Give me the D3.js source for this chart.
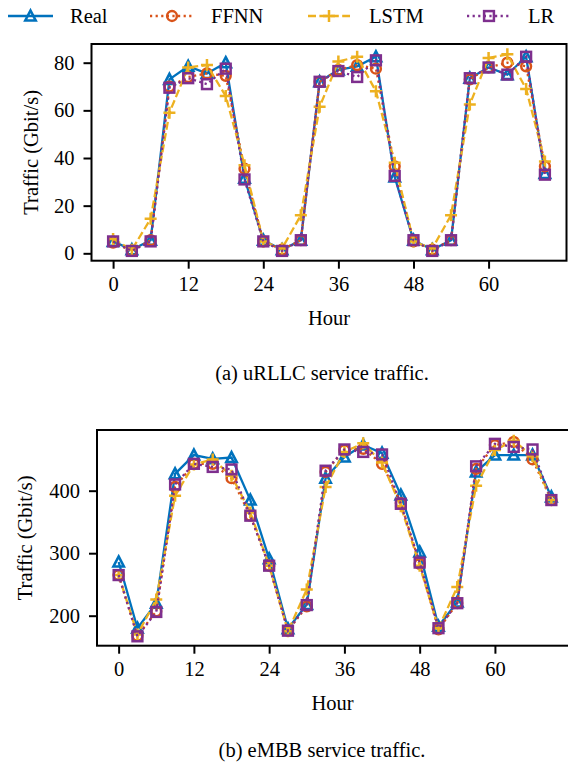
<!DOCTYPE html>
<html>
<head>
<meta charset="utf-8">
<script src="https://cdn.jsdelivr.net/npm/d3@7"></script>
<style>
  body { margin: 0; background: #fff; }
  svg text { font-family: "Liberation Serif", "Times New Roman", serif; fill: #000; }
</style>
</head>
<body>
<svg id="fig" width="568" height="768"></svg>
<script>
// hours on the x axis (one sample every 3 h)
var hours = [0, 3, 6, 9, 12, 15, 18, 21, 24, 27, 30, 33, 36, 39, 42, 45, 48, 51, 54, 57, 60, 63, 66, 69];
var xTicks = [0, 12, 24, 36, 48, 60];

// (a) uRLLC traffic, Gbit/s
var urllcReal = [5, 1.5, 5.5, 73, 78.5, 75.5, 80, 31.5, 5.5, 1.5, 5.5, 72, 77, 78.5, 82.5, 32, 5.5, 1.5, 5.5, 73.5, 78, 75, 82.5, 33.5];
var urllcFFNN = [4.5, 1, 5.5, 70, 74, 75.5, 74.5, 35.5, 5, 1.5, 5.5, 72, 77, 79, 77.5, 36.5, 5, 1.5, 5.5, 73, 78, 80, 78.5, 36.5];
var urllcLSTM = [6, 1.5, 14.5, 59, 78, 79, 66, 37, 5, 2, 16, 61.5, 80.5, 82.5, 68, 38, 5, 2, 16, 62.5, 82, 83.5, 69, 38.5];
var urllcLR   = [5, 1, 5, 69.5, 73.5, 71, 77.5, 31, 5, 1, 5.5, 72, 76.5, 74, 81, 32.5, 5.5, 1, 5.5, 73.5, 78, 75, 82.5, 33];
var urllcTicks = [0, 20, 40, 60, 80];

// (b) eMBB traffic, Gbit/s
var embbReal = [286, 180, 220, 427, 457, 451, 453, 385, 291, 179, 218, 420, 454, 473, 460, 393, 302, 183, 222, 430, 457, 457, 457, 390];
var embbFFNN = [265, 168, 207, 406, 443, 443, 420, 360, 280, 176, 215, 430, 465, 467, 443, 380, 283, 178, 220, 435, 473, 478, 450, 385];
var embbLSTM = [265, 170, 226, 392, 442, 450, 424, 365, 280, 175, 242, 406, 462, 476, 445, 375, 280, 180, 246, 408, 465, 480, 455, 385];
var embbLR   = [265, 167, 206, 410, 443, 438, 434, 360, 280, 176, 217, 432, 466, 462, 458, 379, 285, 180, 220, 439, 475, 470, 466, 385];
var embbTicks = [200, 300, 400];

var seriesNames = ["Real", "FFNN", "LSTM", "LR"];

var styles = {
  Real: { color: "#0072BD", dash: null, marker: "tri" },
  FFNN: { color: "#D95319", dash: "2.2,3.4", marker: "circle" },
  LSTM: { color: "#EDB120", dash: "8,3.4", marker: "plus" },
  LR:   { color: "#7E2F8E", dash: "2.2,3.4", marker: "square" }
};

var FS = "20.5px";
var svg = d3.select("#fig");

function drawMarker(g, kind, color) {
  if (kind == "tri") {
    g.append("path").attr("d", "M0,-5.5L5.2,4.5L-5.2,4.5Z")
      .attr("fill", "none").attr("stroke", color).attr("stroke-width", 2.6);
  } else if (kind == "circle") {
    g.append("circle").attr("r", 4.9)
      .attr("fill", "none").attr("stroke", color).attr("stroke-width", 2.5);
  } else if (kind == "square") {
    g.append("rect").attr("x", -4.9).attr("y", -4.9).attr("width", 9.8).attr("height", 9.8)
      .attr("fill", "none").attr("stroke", color).attr("stroke-width", 2.5);
  } else {
    g.append("path").attr("d", "M-6,0H6M0,-6V6")
      .attr("fill", "none").attr("stroke", color).attr("stroke-width", 2.5);
  }
}

function drawPanel(p) {
  var g = svg.append("g");
  var x = d3.scaleLinear().domain([-3.45, 72.45]).range([p.left, p.right]);
  var y = d3.scaleLinear().domain(p.yDomain).range([p.bottom, p.top]);

  // series
  var line = d3.line().x(function(d) { return x(d[0]); }).y(function(d) { return y(d[1]); });
  seriesNames.forEach(function(name) {
    var st = styles[name];
    var pts = hours.map(function(h, i) { return [h, p.data[name][i]]; });
    g.append("path").datum(pts)
      .attr("d", line)
      .attr("fill", "none")
      .attr("stroke", st.color)
      .attr("stroke-width", 2.3)
      .attr("stroke-dasharray", st.dash);
    pts.forEach(function(d) {
      var m = g.append("g").attr("transform", "translate(" + x(d[0]) + "," + y(d[1]) + ")");
      drawMarker(m, st.marker, st.color);
    });
  });

  // frame
  g.append("rect")
    .attr("x", p.left).attr("y", p.top)
    .attr("width", p.right - p.left).attr("height", p.bottom - p.top)
    .attr("fill", "none").attr("stroke", "#000").attr("stroke-width", 2);

  var xAxis = g.append("g").attr("transform", "translate(0," + p.bottom + ")")
    .call(d3.axisBottom(x).tickValues(xTicks).tickSize(8).tickPadding(8));
  var yAxis = g.append("g").attr("transform", "translate(" + p.left + ",0)")
    .call(d3.axisLeft(y).tickValues(p.yTicks).tickSize(8).tickPadding(9));
  [xAxis, yAxis].forEach(function(a) {
    a.select(".domain").remove();
    a.selectAll(".tick line").attr("stroke", "#000").attr("stroke-width", 2);
    a.selectAll("text").style("font-size", FS).attr("font-family", null);
  });

  g.append("text")
    .attr("x", (p.left + Math.min(p.right, 568)) / 2).attr("y", p.bottom + 64)
    .attr("text-anchor", "middle").style("font-size", FS).text("Hour");

  g.append("text")
    .attr("transform", "translate(" + p.yLabelX + "," + (p.top + p.bottom) / 2 + ") rotate(-90)")
    .attr("text-anchor", "middle").style("font-size", FS).text("Traffic (Gbit/s)");

  g.append("text")
    .attr("x", 322).attr("y", p.captionY)
    .attr("text-anchor", "middle").style("font-size", FS).text(p.caption);
}

drawPanel({
  left: 91.5, right: 566.5, top: 44, bottom: 260.7,
  yDomain: [-3.1, 87.85], yTicks: urllcTicks,
  data: { Real: urllcReal, FFNN: urllcFFNN, LSTM: urllcLSTM, LR: urllcLR },
  yLabelX: 38, captionY: 380,
  caption: "(a) uRLLC service traffic."
});

drawPanel({
  left: 97, right: 573, top: 430, bottom: 645.7,
  yDomain: [152, 497.1], yTicks: embbTicks,
  data: { Real: embbReal, FFNN: embbFFNN, LSTM: embbLSTM, LR: embbLR },
  yLabelX: 32, captionY: 757,
  caption: "(b) eMBB service traffic."
});

// legend across the top
var legendPos = [
  { x0: 8, x1: 53, text: 70 },
  { x0: 150, x1: 194, text: 211 },
  { x0: 308, x1: 350, text: 369 },
  { x0: 467, x1: 511, text: 528 }
];
var leg = svg.append("g");
seriesNames.forEach(function(name, i) {
  var st = styles[name], lp = legendPos[i];
  leg.append("line")
    .attr("x1", lp.x0).attr("x2", lp.x1).attr("y1", 16).attr("y2", 16)
    .attr("stroke", st.color).attr("stroke-width", 2.3)
    .attr("stroke-dasharray", st.dash);
  drawMarker(leg.append("g").attr("transform", "translate(" + (lp.x0 + lp.x1) / 2 + ",16)"), st.marker, st.color);
  leg.append("text").attr("x", lp.text).attr("y", 23).style("font-size", FS).text(name);
});
</script>
</body>
</html>
